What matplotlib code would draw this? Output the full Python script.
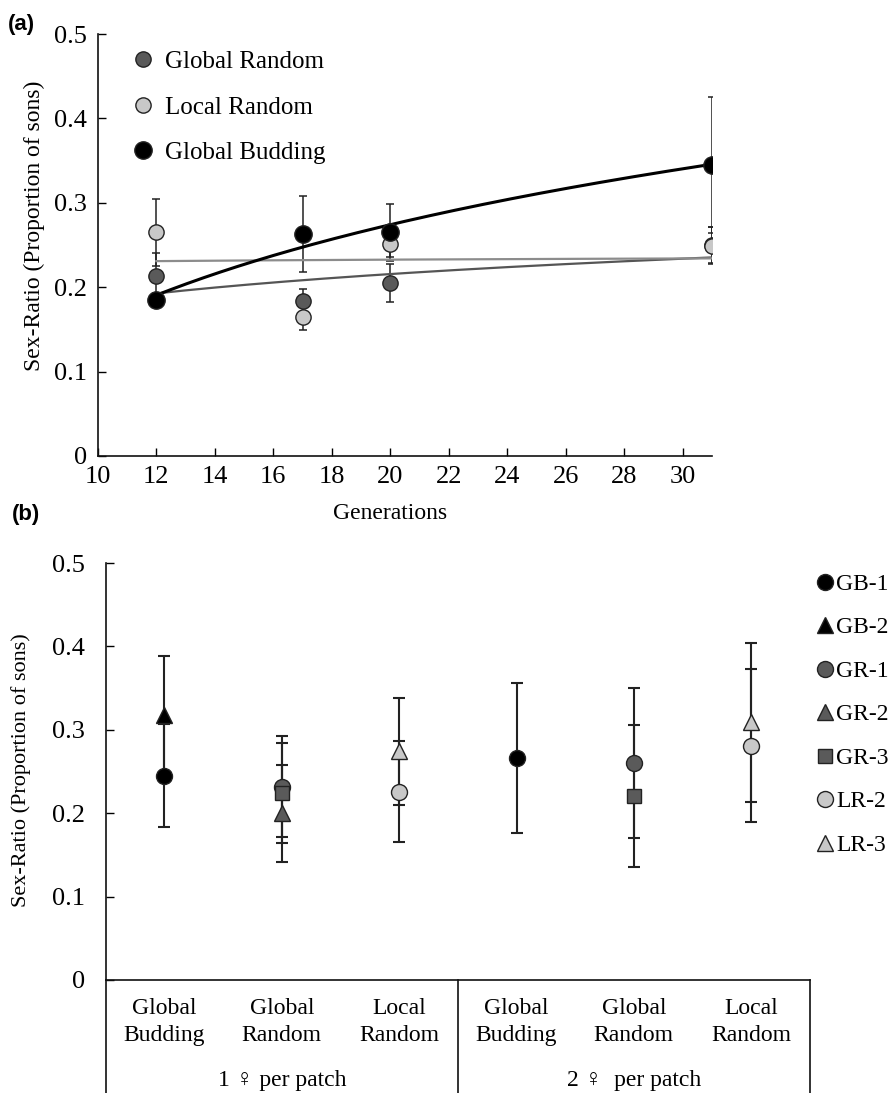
import numpy as np
import matplotlib
matplotlib.use("Agg")
import matplotlib.pyplot as plt

plt.rcParams['font.family'] = ['Liberation Serif', 'DejaVu Sans']

# ---------------- Panel (a) data ----------------
generations = [12, 17, 20, 31]
gr_mean = [0.213, 0.184, 0.205, 0.250]
gr_err = [0.027, 0.014, 0.022, 0.021]
lr_mean = [0.265, 0.165, 0.251, 0.249]
lr_err = [0.040, 0.016, 0.015, 0.022]
gb_mean = [0.185, 0.263, 0.265, 0.345]
gb_err = [0.008, 0.045, 0.034, 0.081]
series_a_names = ["Global Random", "Local Random", "Global Budding"]

# ---------------- Panel (b) data ----------------
categories = ["Global\nBudding", "Global\nRandom", "Local\nRandom",
              "Global\nBudding", "Global\nRandom", "Local\nRandom"]
groups = ["1 \u2640 per patch", "2 \u2640  per patch"]
nan = np.nan
line_names = ["GB-1", "GB-2", "GR-1", "GR-2", "GR-3", "LR-2", "LR-3"]
b_means = {
    "GB-1": [0.245, nan, nan, 0.266, nan, nan],
    "GB-2": [0.318, nan, nan, nan, nan, nan],
    "GR-1": [nan, 0.232, nan, nan, 0.260, nan],
    "GR-2": [nan, 0.200, nan, nan, nan, nan],
    "GR-3": [nan, 0.224, nan, nan, 0.221, nan],
    "LR-2": [nan, nan, 0.226, nan, nan, 0.281],
    "LR-3": [nan, nan, 0.274, nan, nan, 0.309],
}
b_errs = {
    "GB-1": [0.062, nan, nan, 0.090, nan, nan],
    "GB-2": [0.070, nan, nan, nan, nan, nan],
    "GR-1": [nan, 0.060, nan, nan, 0.090, nan],
    "GR-2": [nan, 0.058, nan, nan, nan, nan],
    "GR-3": [nan, 0.060, nan, nan, 0.085, nan],
    "LR-2": [nan, nan, 0.060, nan, nan, 0.092],
    "LR-3": [nan, nan, 0.064, nan, nan, 0.095],
}

# ---------------- styles ----------------
C_GB = "#000000"
C_GR = "#5a5a5a"
C_LR = "#c8c8c8"
EDGE = "#222222"
b_style = {
    "GB-1": ("o", C_GB), "GB-2": ("^", C_GB),
    "GR-1": ("o", C_GR), "GR-2": ("^", C_GR), "GR-3": ("s", C_GR),
    "LR-2": ("o", C_LR), "LR-3": ("^", C_LR),
}

FS = 17
TFS = 19

fig = plt.figure(figsize=(8.89, 10.93), dpi=100)

# ================= Panel (a) =================
ax1 = fig.add_axes([0.110, 0.5828, 0.691, 0.386])
x = np.array(generations, dtype=float)
sets = [
    (gr_mean, gr_err, C_GR, 11, "#555555", 1.6),
    (lr_mean, lr_err, C_LR, 11, "#8c8c8c", 1.6),
    (gb_mean, gb_err, C_GB, 12.5, "#000000", 2.2),
]
for m, e, c, ms, lc, lw in sets:
    ax1.errorbar(x, m, yerr=e, fmt='none', ecolor='#222222', elinewidth=1.1,
                 capsize=3, capthick=1.1, zorder=2)
xx = np.linspace(x.min(), x.max(), 200)
for m, e, c, ms, lc, lw in sets:
    b, a = np.polyfit(np.log(x), np.array(m), 1)
    ax1.plot(xx, a + b * np.log(xx), color=lc, lw=lw, zorder=3)
handles = []
for (m, e, c, ms, lc, lw), name in zip(sets, series_a_names):
    h, = ax1.plot(x, m, linestyle='none', marker='o', ms=ms, mfc=c,
                  mec=EDGE, mew=1.0, zorder=4, label=name)
    handles.append(h)

ax1.set_xlim(10, 31)
ax1.set_ylim(0, 0.5)
ax1.set_xticks(np.arange(10, 31, 2))
ax1.set_yticks([0, 0.1, 0.2, 0.3, 0.4, 0.5])
ax1.set_yticklabels(["0", "0.1", "0.2", "0.3", "0.4", "0.5"])
for s in ["top", "right"]:
    ax1.spines[s].set_visible(False)
for s in ["left", "bottom"]:
    ax1.spines[s].set_linewidth(1.2)
    ax1.spines[s].set_color("#111111")
ax1.tick_params(direction='in', length=6, width=1.0, labelsize=TFS)
ax1.tick_params(axis='y', pad=8)
ax1.tick_params(axis='x', pad=7)
ax1.set_xlabel("Generations", fontsize=FS)
ax1.xaxis.set_label_coords(0.476, -0.112)
ax1.set_ylabel("Sex-Ratio (Proportion of sons)", fontsize=FS)
ax1.yaxis.set_label_coords(-0.086, 0.545)
ax1.legend(handles=handles, labels=series_a_names, loc='upper left',
           bbox_to_anchor=(0.054, 0.961), frameon=False, fontsize=FS + 1,
           handlelength=1.0, handletextpad=0.35, labelspacing=0.92,
           borderpad=0, borderaxespad=0)
fig.text(0.009, 0.978, "(a)", fontsize=16, fontweight='bold',
         family='Liberation Sans', va='center', ha='left')

# ================= Panel (b) =================
ax2 = fig.add_axes([0.119, 0.1034, 0.792, 0.3815])
pos = np.arange(len(categories)) + 0.5
order = ["GB-2", "GB-1", "GR-2", "GR-1", "GR-3", "LR-2", "LR-3"]
for name in order:
    ax2.errorbar(pos, b_means[name], yerr=b_errs[name], fmt='none',
                 ecolor='#222222', elinewidth=1.5, capsize=4, capthick=1.5,
                 zorder=2)
bh = {}
for name in order:
    mk, c = b_style[name]
    ms = 11.5 if mk == 'o' else (11 if mk == '^' else 10.5)
    h, = ax2.plot(pos, b_means[name], linestyle='none', marker=mk, ms=ms,
                  mfc=c, mec=EDGE, mew=1.0, zorder=4, label=name)
    bh[name] = h

ax2.set_xlim(0, 6)
ax2.set_ylim(0, 0.5)
ax2.set_yticks([0, 0.1, 0.2, 0.3, 0.4, 0.5])
ax2.set_yticklabels(["0", "0.1", "0.2", "0.3", "0.4", "0.5"])
ax2.set_xticks([])
for s in ["top", "right"]:
    ax2.spines[s].set_visible(False)
for s in ["left", "bottom"]:
    ax2.spines[s].set_linewidth(1.2)
    ax2.spines[s].set_color("#111111")
ax2.tick_params(axis='y', direction='in', length=6, width=1.0,
                labelsize=TFS, pad=15)
ax2.set_ylabel("Sex-Ratio (Proportion of sons)", fontsize=FS - 1)
ax2.yaxis.set_label_coords(-0.106, 0.504)

# category table below the axis
for xv in [0, 3, 6]:
    ax2.plot([xv, xv], [0, -0.16], color="#111111", lw=1.2,
             clip_on=False, zorder=5)
for p, lab in zip(pos, categories):
    ax2.text(p, -0.0504, lab, ha='center', va='center', fontsize=FS,
             linespacing=1.35)
for gx, g in zip([1.5, 4.5], groups):
    ax2.text(gx, -0.12, g, ha='center', va='center', fontsize=FS)

ax2.legend(handles=[bh[n] for n in line_names], labels=line_names,
           loc='upper left', bbox_to_anchor=(1.012, 0.975), frameon=False,
           fontsize=FS, handlelength=0.6, handletextpad=0.15,
           labelspacing=0.93, borderpad=0, borderaxespad=0)
fig.text(0.013, 0.529, "(b)", fontsize=16, fontweight='bold',
         family='Liberation Sans', va='center', ha='left')

fig.savefig("out.png", dpi=100)
